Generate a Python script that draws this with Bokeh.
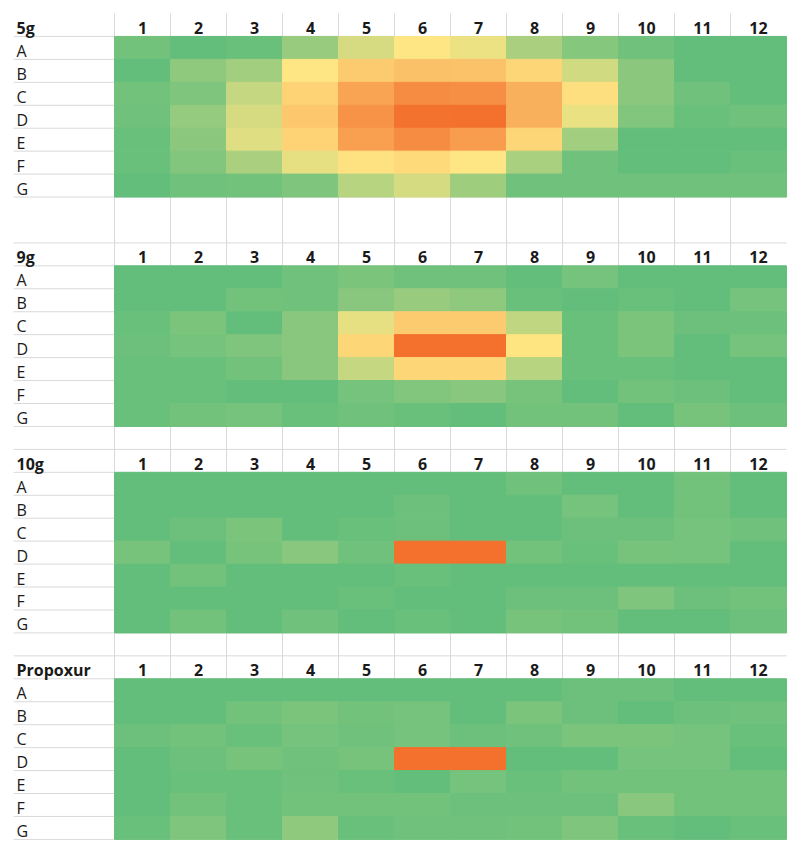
import numpy as np
from bokeh.plotting import figure
from bokeh.models import ColumnDataSource, LinearColorMapper, Range1d
from bokeh.transform import transform
from bokeh.core.properties import value
from bokeh.embed import file_html
from bokeh.resources import INLINE

# ---------------- data ----------------
columns = list(range(1, 13))
col_labels = [str(c) for c in columns]
row_labels = ["A", "B", "C", "D", "E", "F", "G"]
block_names = ["5g", "9g", "10g", "Propoxur"]

# relative response (0 = green, 50 = yellow, 100 = orange)
values_5g = [
    [5, 0, 2, 17, 37, 50, 44, 23, 11, 4, 0, 0],
    [0, 14, 20, 50, 62, 66, 65, 57, 35, 13, 0, 0],
    [5, 9, 32, 58, 78, 88, 87, 73, 53, 13, 4, 0],
    [4, 16, 37, 63, 85, 99, 100, 73, 43, 10, 2, 4],
    [2, 13, 40, 58, 80, 88, 81, 57, 20, 0, 0, 0],
    [2, 10, 23, 42, 52, 55, 50, 22, 4, 0, 0, 2],
    [0, 4, 5, 9, 27, 36, 19, 4, 4, 4, 4, 4],
]
values_9g = [
    [0, 0, 0, 4, 8, 4, 4, 0, 6, 0, 0, 0],
    [0, 0, 5, 4, 12, 17, 14, 2, 0, 2, 0, 6],
    [2, 8, 0, 12, 42, 62, 62, 30, 2, 8, 3, 3],
    [3, 6, 9, 12, 57, 100, 100, 51, 2, 8, 0, 6],
    [2, 2, 5, 12, 32, 57, 57, 27, 2, 2, 0, 0],
    [2, 2, 0, 0, 6, 10, 12, 7, 0, 5, 3, 0],
    [2, 5, 6, 2, 4, 2, 0, 5, 5, 0, 7, 3],
]
values_10g = [
    [0, 0, 0, 0, 0, 0, 0, 4, 0, 0, 5, 0],
    [0, 0, 0, 0, 0, 3, 0, 0, 6, 0, 5, 0],
    [0, 3, 8, 0, 2, 3, 0, 0, 3, 3, 6, 4],
    [7, 0, 7, 12, 4, 100, 100, 5, 2, 7, 6, 0],
    [0, 5, 0, 0, 0, 2, 0, 0, 0, 0, 0, 0],
    [0, 0, 0, 0, 2, 0, 0, 3, 3, 9, 3, 5],
    [0, 5, 0, 4, 0, 2, 0, 7, 5, 0, 0, 3],
]
values_propoxur = [
    [0, 0, 0, 0, 0, 0, 0, 0, 3, 3, 0, 0],
    [0, 0, 5, 8, 5, 6, 0, 8, 3, 0, 3, 4],
    [3, 5, 2, 6, 4, 6, 3, 4, 8, 8, 6, 2],
    [0, 3, 7, 4, 7, 100, 100, 0, 0, 6, 6, 0],
    [0, 2, 2, 4, 2, 0, 6, 2, 5, 5, 5, 5],
    [0, 5, 2, 5, 5, 5, 3, 3, 3, 12, 5, 5],
    [2, 9, 2, 14, 2, 4, 4, 5, 9, 2, 0, 2],
]
block_values = [values_5g, values_9g, values_10g, values_propoxur]

# ---------------- layout (row units, spreadsheet style) ----------------
header_rows = [0, 10, 19, 28]
label_left = -1.25
grid_left = -1.30
grid_right = 12.5
top_row = -0.5
bottom_row = 35.5

# ---------------- colour scale ----------------
def interp(c0, c1, t):
    return tuple(int(round(a + (b - a) * t)) for a, b in zip(c0, c1))

green = (99, 190, 123)
yellow = (255, 230, 132)
orange = (243, 112, 45)
palette = []
for i in range(256):
    t = i / 255
    if t <= 0.5:
        c = interp(green, yellow, t / 0.5)
    else:
        c = interp(yellow, orange, (t - 0.5) / 0.5)
    palette.append("#%02x%02x%02x" % c)
mapper = LinearColorMapper(palette=palette, low=0, high=100)

# ---------------- sources ----------------
xs, ys, vs = [], [], []
for h, vals in zip(header_rows, block_values):
    for r, rowvals in enumerate(vals):
        for c, v in zip(columns, rowvals):
            xs.append(c)
            ys.append(h + 1 + r)
            vs.append(v)
cells = ColumnDataSource(dict(x=xs, y=ys, value=vs))

# ---------------- figure ----------------
p = figure(width=792, height=846,
           x_range=Range1d(-1.536, 12.607), y_range=Range1d(35.81, -1.067),
           x_axis_type=None, y_axis_type=None,
           output_backend="svg", toolbar_location=None, min_border=0)
p.grid.visible = False
p.outline_line_color = None
p.background_fill_color = "white"
p.border_fill_color = "white"

grid_color = "#d9d9d9"
# vertical grid lines
vx = [c - 0.5 for c in columns]
p.segment(x0=vx, y0=[top_row] * len(vx), x1=vx, y1=[bottom_row] * len(vx),
          line_color=grid_color, line_width=1)
# horizontal grid lines
hy = []
for i, h in enumerate(header_rows):
    start = 1 if i == 0 else 0
    for k in range(start, len(row_labels) + 2):
        hy.append(h - 0.5 + k)
p.segment(x0=[grid_left] * len(hy), y0=hy, x1=[grid_right] * len(hy), y1=hy,
          line_color=grid_color, line_width=1)

# heat cells
p.rect(x="x", y="y", width=1, height=1, source=cells,
       fill_color=transform("value", mapper),
       line_color=transform("value", mapper), line_width=1)

font = value("Open Sans")
text_color = "#1a1a1a"
fsize = "16px"
base = 0.13
# block names
p.text(x=[label_left] * len(block_names), y=[h + base for h in header_rows],
       text=block_names, text_font=font, text_font_size=fsize,
       text_font_style="bold", text_color=text_color,
       text_align="left", text_baseline="alphabetic")
# column headers
cx, cy, ct = [], [], []
for h in header_rows:
    for c, lab in zip(columns, col_labels):
        cx.append(c); cy.append(h + base); ct.append(lab)
p.text(x=cx, y=cy, text=ct, text_font=font, text_font_size=fsize,
       text_font_style="bold", text_color=text_color,
       text_align="center", text_baseline="alphabetic")
# row labels
rx, ry, rt = [], [], []
for h in header_rows:
    for r, lab in enumerate(row_labels):
        rx.append(label_left); ry.append(h + 1 + r + base); rt.append(lab)
p.text(x=rx, y=ry, text=rt, text_font=font, text_font_size=fsize,
       text_color=text_color, text_align="left", text_baseline="alphabetic")

open("out.html", "w").write(file_html(p, INLINE))
